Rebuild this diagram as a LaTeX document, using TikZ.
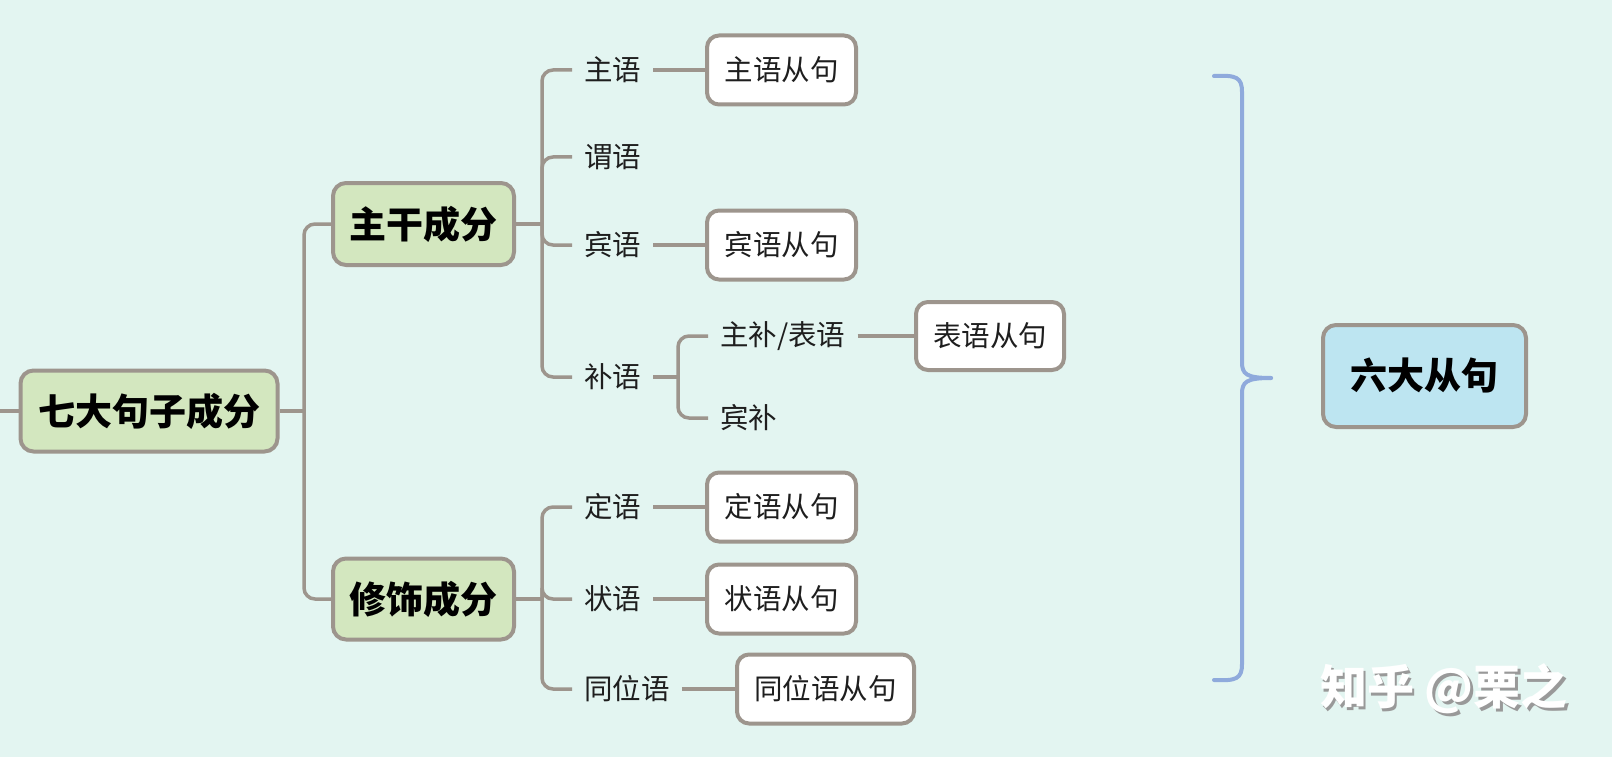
\documentclass[tikz,border=0pt]{standalone}
\usepackage{fontspec}
\setmainfont{Noto Sans CJK SC}
\usetikzlibrary{calc}
\definecolor{bg}{HTML}{E3F5F1}
\definecolor{gfill}{HTML}{D3E7BF}
\definecolor{edge}{HTML}{9D958D}
\definecolor{bracec}{HTML}{8FAADC}
\definecolor{bfill}{HTML}{BDE5F1}
\definecolor{txt}{HTML}{1E1E1E}
\begin{document}
\begin{tikzpicture}[x=1pt,y=-1pt,
  conn/.style={draw=edge,line width=3.5pt,rounded corners=11pt},
  mainbox/.style={draw=edge,line width=4pt,fill=gfill,rounded corners=13pt,inner sep=0pt,
    font=\fontsize{37}{40}\selectfont\bfseries,text=black},
  clausebox/.style={draw=edge,line width=4pt,fill=white,rounded corners=12pt,inner sep=0pt,
    minimum height=69pt,font=\fontsize{28.5}{31}\selectfont,text=txt},
  leaf/.style={anchor=west,inner xsep=12pt,inner ysep=2pt,font=\fontsize{28.5}{31}\selectfont,text=txt},
  bracepath/.style={draw=bracec,line width=4pt,line cap=round}]
\fill[bg] (0,0) rectangle (1612,757);
\useasboundingbox (0,0) rectangle (1612,757);

% main nodes
\node[mainbox,minimum width=257pt,minimum height=81pt] (root) at (149,411) {七大句子成分};
\node[mainbox,minimum width=181pt,minimum height=82pt] (zg) at (423.5,224) {主干成分};
\node[mainbox,minimum width=181pt,minimum height=81pt] (xs) at (423.5,599) {修饰成分};
\node[mainbox,fill=bfill,minimum width=203pt,minimum height=102pt] (ld) at (1424.5,376) {六大从句};

% leaf labels
\node[leaf] (zy) at (572,70) {主语};
\node[leaf] (wy) at (572,157) {谓语};
\node[leaf] (by) at (572,245) {宾语};
\node[leaf] (bu) at (572,377) {补语};
\node[leaf] (zb) at (708,336) {主补/表语};
\node[leaf] (bb) at (708,418) {宾补};
\node[leaf] (dy) at (572,507) {定语};
\node[leaf] (zhy) at (572,599) {状语};
\node[leaf] (tw) at (572,689) {同位语};

% clause boxes
\node[clausebox,minimum width=149pt] (zyc) at (781.5,70) {主语从句};
\node[clausebox,minimum width=149pt] (byc) at (781.5,245) {宾语从句};
\node[clausebox,minimum width=148pt,minimum height=68pt] (bbc) at (990,336) {表语从句};
\node[clausebox,minimum width=149pt] (dyc) at (781.5,507) {定语从句};
\node[clausebox,minimum width=149pt] (zhyc) at (781.5,599) {状语从句};
\node[clausebox,minimum width=177pt] (twc) at (825.5,689) {同位语从句};

% junctions
\coordinate (stub) at (0,411);
\coordinate (j1) at (304,411);
\coordinate (j2) at (542,224);
\coordinate (j3) at (542,599);
\coordinate (j4) at (678,377);

% connectors
\draw[conn] (stub) -- (root.west);
\draw[conn] (root.east) -- (j1);
\draw[conn] (j1) |- (zg.west);
\draw[conn] (j1) |- (xs.west);

\draw[conn] (zg.east) -- (j2);
\draw[conn] (j2) |- (zy.west);
\draw[conn] (j2) |- (wy.west);
\draw[conn] (j2) |- (by.west);
\draw[conn] (j2) |- (bu.west);

\draw[conn] (bu.east) -- (j4);
\draw[conn] (j4) |- (zb.west);
\draw[conn] (j4) |- (bb.west);

\draw[conn] (xs.east) -- (j3);
\draw[conn] (j3) |- (dy.west);
\draw[conn] (j3) |- (zhy.west);
\draw[conn] (j3) |- (tw.west);

\draw[conn] (zy.east) -- (zyc.west);
\draw[conn] (by.east) -- (byc.west);
\draw[conn] (zb.east) -- (bbc.west);
\draw[conn] (dy.east) -- (dyc.west);
\draw[conn] (zhy.east) -- (zhyc.west);
\draw[conn] (tw.east) -- (twc.west);

% brace
\draw[bracepath] (1214,76) .. controls (1236,75) and (1242,77) .. (1242,92)
  -- (1242,362) .. controls (1242,374) and (1246,378) .. (1271,378);
\draw[bracepath] (1214,680) .. controls (1236,681) and (1242,679) .. (1242,664)
  -- (1242,394) .. controls (1242,382) and (1246,378) .. (1271,378);

% watermark
\node[text=black!40,font=\fontsize{47}{49}\selectfont\bfseries] (wms) at (1446.5,691.5) {知乎 @栗之};
\node[text=white,font=\fontsize{47}{49}\selectfont\bfseries] (wm) at (1444,689) {知乎 @栗之};
\end{tikzpicture}
\end{document}
